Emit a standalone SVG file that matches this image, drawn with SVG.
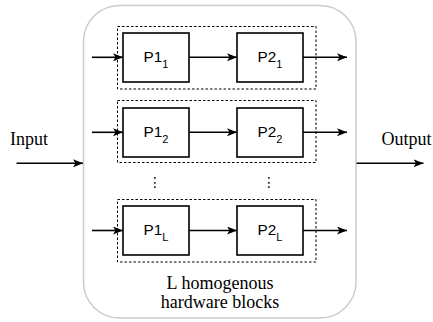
<svg xmlns="http://www.w3.org/2000/svg" width="433" height="322" viewBox="0 0 433 322">
  <style>
    .frame { fill: #fff; stroke: #cccccc; stroke-width: 1.5; }
    .group { fill: none; stroke: #000; stroke-width: 1; stroke-dasharray: 2.5 2; }
    .stage { fill: #fff; stroke: #000; stroke-width: 1.6; }
    .wire { fill: none; stroke: #000; stroke-width: 1.6; }
    .lbl { font-family: "Liberation Sans", Arial, sans-serif; font-size: 15.3px; fill: #000; text-anchor: middle; }
    .sub { font-size: 11px; }
    .cap { font-family: "Liberation Serif", "Times New Roman", serif; font-size: 18px; fill: #000; }
    .dots { font-family: "DejaVu Sans", sans-serif; font-size: 14px; fill: #000; text-anchor: middle; }
  </style>
  <defs>
    <marker id="arrow" viewBox="0 0 10 8" markerWidth="10" markerHeight="8" refX="10" refY="4" orient="auto" markerUnits="userSpaceOnUse">
      <path d="M0,0 L10,4 L0,8 L2.5,4 Z" fill="#000"/>
    </marker>
  </defs>

  <rect width="433" height="322" fill="#fff"/>

  <!-- enclosing hardware frame -->
  <g id="frame">
    <rect class="frame" x="83.5" y="5.5" width="272.5" height="312.5" rx="36" ry="36"/>
    <text class="cap" x="220" y="289.3" text-anchor="middle">L homogenous</text>
    <text class="cap" x="220" y="308.3" text-anchor="middle">hardware blocks</text>
  </g>

  <!-- dashed pipeline groups -->
  <g id="block-1"><rect class="group" x="117.5" y="26.5" width="198.5" height="62.5"/></g>
  <g id="block-2"><rect class="group" x="117.5" y="100.5" width="198.5" height="62"/></g>
  <g id="block-L"><rect class="group" x="117.5" y="199.5" width="198.5" height="62.5"/></g>

  <!-- connectors -->
  <g id="connectors">
    <line class="wire" x1="16.5" y1="163.3" x2="83" y2="163.3" marker-end="url(#arrow)"/>
    <line class="wire" x1="356.5" y1="163.3" x2="423.5" y2="163.3" marker-end="url(#arrow)"/>

    <line class="wire" x1="92" y1="57.3" x2="123" y2="57.3" marker-end="url(#arrow)"/>
    <line class="wire" x1="189" y1="57.3" x2="237" y2="57.3" marker-end="url(#arrow)"/>
    <line class="wire" x1="303" y1="57.3" x2="347" y2="57.3" marker-end="url(#arrow)"/>

    <line class="wire" x1="92" y1="132.3" x2="123" y2="132.3" marker-end="url(#arrow)"/>
    <line class="wire" x1="189" y1="132.3" x2="237" y2="132.3" marker-end="url(#arrow)"/>
    <line class="wire" x1="303" y1="132.3" x2="347" y2="132.3" marker-end="url(#arrow)"/>

    <line class="wire" x1="92" y1="230.5" x2="123" y2="230.5" marker-end="url(#arrow)"/>
    <line class="wire" x1="189" y1="230.5" x2="237" y2="230.5" marker-end="url(#arrow)"/>
    <line class="wire" x1="303" y1="230.5" x2="347" y2="230.5" marker-end="url(#arrow)"/>
  </g>

  <!-- stages -->
  <g id="p1-1"><rect class="stage" x="123" y="33" width="66" height="49"/><text class="lbl" x="156" y="62">P1<tspan class="sub" dy="5.5">1</tspan></text></g>
  <g id="p2-1"><rect class="stage" x="237" y="33" width="66" height="49"/><text class="lbl" x="270" y="62">P2<tspan class="sub" dy="5.5">1</tspan></text></g>
  <g id="p1-2"><rect class="stage" x="123" y="108" width="66" height="49"/><text class="lbl" x="156" y="137">P1<tspan class="sub" dy="5.5">2</tspan></text></g>
  <g id="p2-2"><rect class="stage" x="237" y="108" width="66" height="49"/><text class="lbl" x="270" y="137">P2<tspan class="sub" dy="5.5">2</tspan></text></g>
  <g id="p1-L"><rect class="stage" x="123" y="206" width="66" height="49"/><text class="lbl" x="156" y="235">P1<tspan class="sub" dy="5.5">L</tspan></text></g>
  <g id="p2-L"><rect class="stage" x="237" y="206" width="66" height="49"/><text class="lbl" x="270" y="235">P2<tspan class="sub" dy="5.5">L</tspan></text></g>

  <!-- elided rows -->
  <text class="dots" x="155" y="187">⋮</text>
  <text class="dots" x="269" y="187">⋮</text>

  <!-- external labels -->
  <text class="cap" x="10" y="145">Input</text>
  <text class="cap" x="381.5" y="145">Output</text>
</svg>
